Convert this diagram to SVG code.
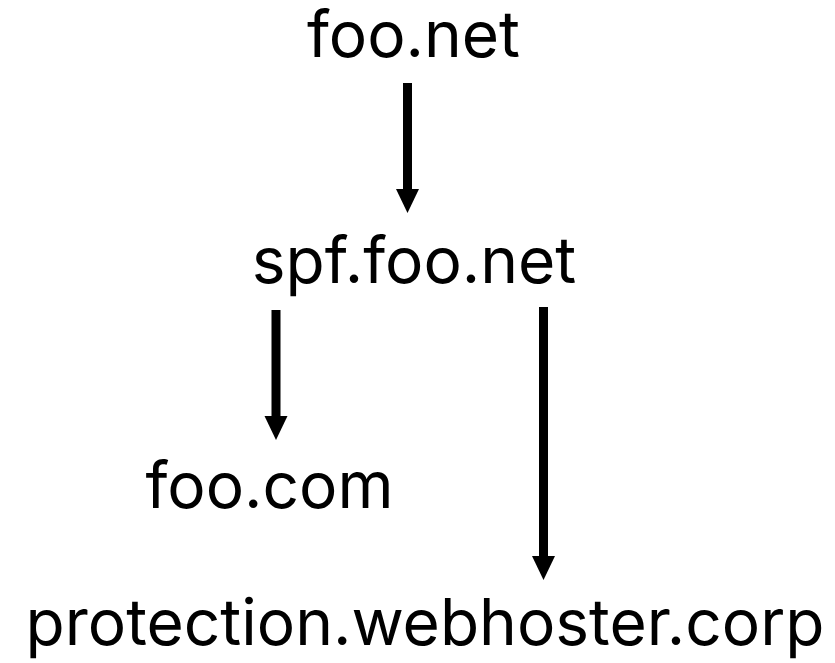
<svg xmlns="http://www.w3.org/2000/svg" width="835" height="663" viewBox="0 0 835 663">
<style>
text{font-family:Inter,"Noto Sans",sans-serif;font-size:64px;fill:#000;text-anchor:middle}
.c{stroke:#000;stroke-width:9;fill:none}
.h{fill:#000}
</style>
<rect width="835" height="663" fill="#fff"/>
<g id="n1"><text x="413.5" y="57">foo.net</text></g>
<g id="n2"><text x="414" y="283">spf.foo.net</text></g>
<g id="n3"><text x="269.5" y="508">foo.com</text></g>
<g id="n4"><text x="425" y="645">protection.webhoster.corp</text></g>
<g id="edges">
<line class="c" x1="407.5" y1="83" x2="407.5" y2="190"/>
<polygon class="h" points="396,189 419,189 407.5,213"/>
<line class="c" x1="276" y1="310" x2="276" y2="417"/>
<polygon class="h" points="264.5,416 287.5,416 276,440"/>
<line class="c" x1="543.5" y1="307" x2="543.5" y2="557"/>
<polygon class="h" points="532,556 555,556 543.5,580"/>
</g>
</svg>
